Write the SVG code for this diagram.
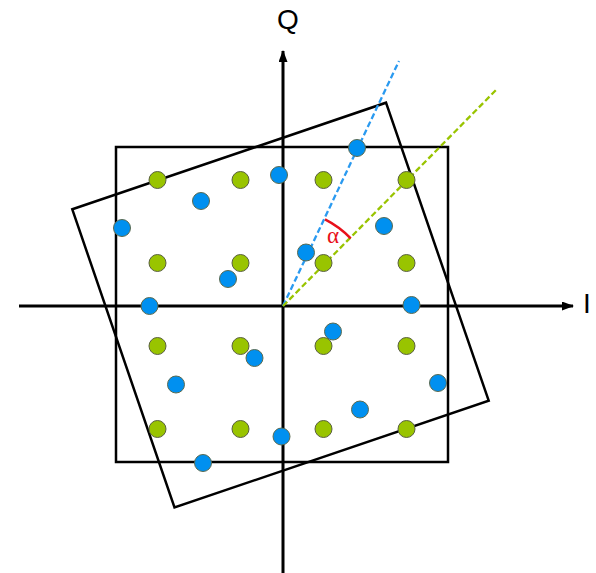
<svg xmlns="http://www.w3.org/2000/svg" width="596" height="573" viewBox="0 0 596 573">
<style>
.sq{fill:none;stroke:#000;stroke-width:2.5;stroke-linejoin:miter}
.ax{stroke:#000;stroke-width:3;fill:none}
.g{fill:#99c400;stroke:#5a6040;stroke-width:1}
.b{fill:#0090f0;stroke:#5a6a50;stroke-width:1}
.lbl{font-family:"Liberation Sans",Arial,sans-serif;font-size:28px;fill:#000}
</style>
<defs>
<marker id="arr" markerWidth="12" markerHeight="9" refX="11" refY="4.5" orient="auto" markerUnits="userSpaceOnUse">
<path d="M0,0 L12,4.5 L0,9 Z" fill="#000"/>
</marker>
</defs>
<rect width="596" height="573" fill="#fff"/>
<g id="connectors">
<line class="ax" x1="19" y1="306" x2="573" y2="306" marker-end="url(#arr)"/>
<line class="ax" x1="283" y1="573" x2="283" y2="51" marker-end="url(#arr)"/>
<rect id="square" class="sq" x="116" y="147" width="332" height="315"/>
<polygon id="rotated-square" class="sq" points="72.3,209.3 386,102.7 488.7,400.7 174.5,507.5"/>
<line x1="283" y1="306" x2="399" y2="61" stroke="#2a9af0" stroke-width="2.3" stroke-dasharray="6,3"/>
<line x1="283" y1="306" x2="497" y2="89" stroke="#99c400" stroke-width="2.3" stroke-dasharray="6,3"/>
<path d="M325,219.3 A96,96 0 0 1 350.7,238.3" fill="none" stroke="#e8101a" stroke-width="2.5"/>
</g>
<g id="green-dots">
<circle class="g" cx="157.5" cy="180" r="8.5"/>
<circle class="g" cx="240.5" cy="180" r="8.5"/>
<circle class="g" cx="323.5" cy="180" r="8.5"/>
<circle class="g" cx="406.5" cy="180" r="8.5"/>
<circle class="g" cx="157.5" cy="263" r="8.5"/>
<circle class="g" cx="240.5" cy="263" r="8.5"/>
<circle class="g" cx="323.5" cy="263" r="8.5"/>
<circle class="g" cx="406.5" cy="263" r="8.5"/>
<circle class="g" cx="157.5" cy="346" r="8.5"/>
<circle class="g" cx="240.5" cy="346" r="8.5"/>
<circle class="g" cx="323.5" cy="346" r="8.5"/>
<circle class="g" cx="406.5" cy="346" r="8.5"/>
<circle class="g" cx="157.5" cy="429" r="8.5"/>
<circle class="g" cx="240.5" cy="429" r="8.5"/>
<circle class="g" cx="323.5" cy="429" r="8.5"/>
<circle class="g" cx="406.5" cy="429" r="8.5"/>
</g>
<g id="blue-dots">
<circle class="b" cx="357" cy="148" r="8.5"/>
<circle class="b" cx="279" cy="175" r="8.5"/>
<circle class="b" cx="201" cy="201" r="8.5"/>
<circle class="b" cx="122" cy="228" r="8.5"/>
<circle class="b" cx="384" cy="226" r="8.5"/>
<circle class="b" cx="306" cy="252.5" r="8.5"/>
<circle class="b" cx="228" cy="279" r="8.5"/>
<circle class="b" cx="149.5" cy="306" r="8.5"/>
<circle class="b" cx="411.5" cy="305" r="8.5"/>
<circle class="b" cx="333" cy="331.5" r="8.5"/>
<circle class="b" cx="254.5" cy="358" r="8.5"/>
<circle class="b" cx="176" cy="384.5" r="8.5"/>
<circle class="b" cx="438" cy="383" r="8.5"/>
<circle class="b" cx="360" cy="409.5" r="8.5"/>
<circle class="b" cx="281.5" cy="436.5" r="8.5"/>
<circle class="b" cx="203" cy="463" r="8.5"/>
</g>
<g id="labels">
<text id="label-Q" class="lbl" x="288" y="29" text-anchor="middle">Q</text>
<text id="label-I" class="lbl" x="587" y="313" text-anchor="middle">I</text>
<text id="label-alpha" x="333" y="243" text-anchor="middle" font-family="'Liberation Serif','Times New Roman',serif" font-size="23" fill="#e8101a">α</text>
</g>
</svg>
